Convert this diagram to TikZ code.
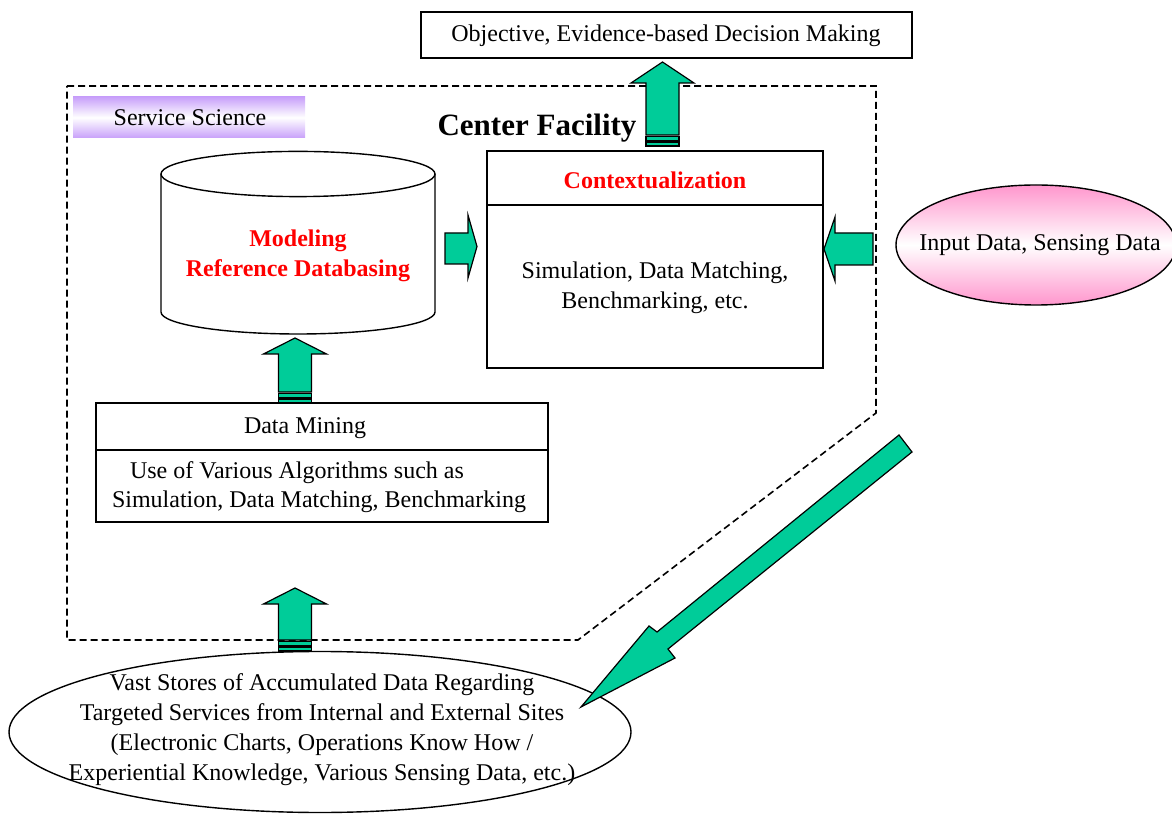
\documentclass[tikz,border=0pt]{standalone}
\usepackage{fontspec}
\setmainfont{Liberation Serif}
\usetikzlibrary{shapes.geometric}

\definecolor{arrowgreen}{RGB}{0,204,153}
\definecolor{lavender}{RGB}{200,160,250}
\definecolor{pinkfill}{RGB}{255,150,205}
\definecolor{titlered}{RGB}{255,0,0}

\tikzset{
  txt/.style={font=\fontsize{12}{15}\selectfont, inner sep=0pt, align=center},
  redtxt/.style={txt, font=\fontsize{12}{15}\selectfont\bfseries, text=titlered},
  framebox/.style={draw, line width=0.7pt, fill=white, inner sep=0pt},
  blk/.style={draw, line width=0.6pt, fill=arrowgreen, line join=miter},
  zone/.style={draw, line width=0.8pt, dash pattern=on 3.5pt off 2pt},
}

% vertical block arrow: #1 axis x, #2 tip y, #3 head length, #4 y where the shaft ends
\newcommand\UpBlock[4]{%
  \draw[blk] (#1,#2) -- (#1+31.5,#2+#3) -- (#1+16.5,#2+#3) -- (#1+16.5,#4)
    -- (#1-16.5,#4) -- (#1-16.5,#2+#3) -- (#1-31.5,#2+#3) -- cycle;
  \draw[blk] (#1-16.5,#4+1.5) rectangle (#1+16.5,#4+6);
  \draw[blk] (#1-16.5,#4+7.5) rectangle (#1+16.5,#4+11);
}

\begin{document}
\begin{tikzpicture}[x=0.5pt, y=-0.5pt]
\useasboundingbox (0,0) rectangle (1172,817);

% center facility zone
\draw[zone] (67,86) -- (876,86) -- (876,413) -- (578,640) -- (67,640) -- cycle;

% output box
\node[framebox, minimum width=245.5pt, minimum height=23pt] (goal) at (666.5,35) {};
\node[txt] (goaltxt) at (666,36) {Objective, Evidence-based Decision Making};

% service science tag
\node[inner sep=0pt, minimum width=116pt, minimum height=20.5pt,
      top color=lavender, bottom color=lavender, middle color=white] (tag) at (189,117.5) {};
\node[txt] (tagtxt) at (190,118) {Service Science};

\node[txt, font=\fontsize{15.5}{18}\selectfont\bfseries] (cf) at (537,128) {Center Facility};

% reference database cylinder
\draw[line width=0.7pt, fill=white] (161,174) -- (161,312)
  arc[start angle=180, end angle=360, x radius=68.5pt, y radius=11pt] -- (435,174);
\draw[line width=0.7pt, fill=white] (298,174) ellipse[x radius=68.5pt, y radius=11.3pt];
\coordinate (db) at (298,256);
\node[redtxt] (dbtxt) at (db) {Modeling\\Reference Databasing};

% contextualization box
\node[framebox, minimum width=168pt, minimum height=108.5pt] (ctx) at (655,259.5) {};
\draw[line width=0.7pt] (487,205) -- (823,205);
\node[redtxt] (ctxhead) at (655,180) {Contextualization};
\node[txt] (ctxtxt) at (655,288) {Simulation, Data Matching,\\Benchmarking, etc.};

% data mining box
\node[framebox, minimum width=226pt, minimum height=59.5pt] (dm) at (322,462.5) {};
\draw[line width=0.7pt] (96,450) -- (548,450);
\node[txt] (dmhead) at (305,428) {Data Mining};
\node[txt] (dmtxt1) at (297,473) {Use of Various Algorithms such as};
\node[txt] (dmtxt2) at (319,502) {Simulation, Data Matching, Benchmarking};

% input data source
\node[ellipse, draw, line width=0.7pt, minimum width=140pt, minimum height=60pt,
      top color=pinkfill, bottom color=pinkfill, middle color=white] (input) at (1036,245) {};
\node[txt] (inputtxt) at (1040,245) {Input Data, Sensing Data};

% accumulated data store
\node[ellipse, draw, line width=0.7pt, fill=white, inner sep=0pt,
      minimum width=311pt, minimum height=80.5pt] (store) at (320,732) {};
\node[txt] (storetxt) at (322,730) {Vast Stores of Accumulated Data Regarding\\
  Targeted Services from Internal and External Sites\\
  (Electronic Charts, Operations Know How /\\
  Experiential Knowledge, Various Sensing Data, etc.)};

% block arrows
\UpBlock{662.5}{62}{21}{135}
\UpBlock{295}{338}{16}{392}
\UpBlock{295}{588}{16}{640}

% database -> contextualization
\draw[blk] (445,233) -- (468,233) -- (468,215) -- (477,246.5) -- (468,278)
  -- (468,264) -- (445,264) -- cycle;
% input data -> contextualization
\draw[blk] (873,233) -- (835,233) -- (835,217) -- (824,249) -- (835,281)
  -- (835,265) -- (873,265) -- cycle;
% result fed back to the data store
\draw[blk] (899,435) -- (912,452) -- (668,649) -- (675,658) -- (581,707)
  -- (649,626) -- (657,632) -- cycle;
\end{tikzpicture}
\end{document}
